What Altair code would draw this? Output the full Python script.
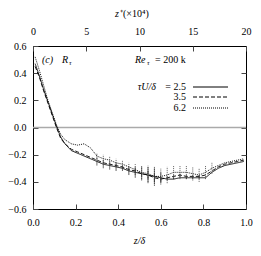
import altair as alt
import pandas as pd

# ---- data ----
z = [0.01, 0.03, 0.05, 0.07, 0.09, 0.11, 0.13, 0.15, 0.18, 0.21, 0.24, 0.27,
     0.30, 0.33, 0.36, 0.39, 0.42, 0.45, 0.48, 0.51, 0.54, 0.57, 0.60, 0.63,
     0.66, 0.69, 0.72, 0.75, 0.78, 0.81, 0.84, 0.87, 0.90, 0.93, 0.96, 0.99]
r_25 = [0.47, 0.38, 0.28, 0.19, 0.10, 0.01, -0.07, -0.12, -0.17, -0.19, -0.21, -0.23,
        -0.25, -0.27, -0.28, -0.29, -0.30, -0.32, -0.33, -0.34, -0.35, -0.36, -0.37, -0.38,
        -0.38, -0.37, -0.37, -0.37, -0.37, -0.37, -0.33, -0.30, -0.28, -0.27, -0.26, -0.25]
r_35 = [0.45, 0.37, 0.27, 0.18, 0.09, 0.00, -0.08, -0.12, -0.16, -0.18, -0.20, -0.22,
        -0.24, -0.26, -0.27, -0.28, -0.29, -0.31, -0.32, -0.34, -0.35, -0.37, -0.38, -0.37,
        -0.36, -0.35, -0.36, -0.36, -0.36, -0.35, -0.32, -0.29, -0.27, -0.26, -0.25, -0.24]
r_62 = [0.52, 0.42, 0.31, 0.20, 0.11, 0.02, -0.05, -0.09, -0.12, -0.13, -0.12, -0.15,
        -0.21, -0.23, -0.24, -0.26, -0.27, -0.29, -0.31, -0.33, -0.34, -0.36, -0.36, -0.35,
        -0.33, -0.33, -0.33, -0.34, -0.35, -0.33, -0.30, -0.28, -0.26, -0.25, -0.24, -0.23]
e_25 = [0, 0, 0, 0, 0, 0, 0, 0, 0, 0, 0, 0,
        0.03, 0.03, 0.03, 0.03, 0.02, 0.03, 0.04, 0.05, 0.06, 0.06, 0.04, 0,
        0, 0, 0, 0, 0, 0, 0, 0, 0, 0, 0, 0]
e_35 = [0, 0, 0, 0, 0, 0, 0, 0, 0, 0, 0, 0,
        0, 0, 0, 0, 0, 0, 0.02, 0.02, 0.03, 0.03, 0.02, 0.02,
        0.02, 0.02, 0.02, 0.02, 0.02, 0, 0, 0, 0, 0, 0, 0]
e_62 = [0, 0, 0, 0, 0, 0, 0, 0, 0, 0, 0, 0,
        0.02, 0.03, 0.03, 0.03, 0.03, 0.03, 0.04, 0.05, 0.06, 0.07, 0.06, 0.06,
        0.05, 0.05, 0.05, 0.05, 0.05, 0.05, 0.04, 0, 0, 0, 0, 0]
series = ["2.5", "3.5", "6.2"]
x_ticks = [0.0, 0.2, 0.4, 0.6, 0.8, 1.0]
y_ticks = [-0.6, -0.4, -0.2, 0.0, 0.2, 0.4, 0.6]
zplus_ticks = [0, 5, 10, 15, 20]

FONT = "Liberation Serif"
FS = 10
W, H = 213, 163

rows = []
for s, ys, es in zip(series, [r_25, r_35, r_62], [e_25, e_35, e_62]):
    for xi, yi, ei in zip(z, ys, es):
        rows.append({"z": xi, "r": yi, "lo": yi - ei, "hi": yi + ei, "err": ei, "s": s})
df = pd.DataFrame(rows)

dash = alt.StrokeDash("s:N", scale=alt.Scale(domain=series, range=[[1, 0], [4, 2], [1, 1]]), legend=None)

xscale = alt.Scale(domain=[0, 1], nice=False, zero=False)
yscale = alt.Scale(domain=[-0.6, 0.6], nice=False, zero=False)

common = dict(offset=-5, tickSize=5, domain=False, grid=False, title=None, tickColor="#444",
              labelFont=FONT, labelFontSize=FS, labelColor="black", labelOverlap=False,
              labelFlush=False)

xaxis = alt.Axis(values=x_ticks, format=".1f", orient="bottom", labelPadding=8, **common)
yaxis = alt.Axis(values=y_ticks, format=".1f", orient="left", labelPadding=7, **common)

zero = alt.Chart(pd.DataFrame({"y": [0.0]})).mark_rule(color="#aaaaaa", strokeWidth=1.5).encode(
    y=alt.Y("y:Q", scale=yscale, axis=yaxis))

lines = alt.Chart(df).mark_line(color="black", strokeWidth=0.9).encode(
    x=alt.X("z:Q", scale=xscale, axis=xaxis),
    y=alt.Y("r:Q", scale=yscale, axis=yaxis),
    strokeDash=dash,
    detail="s:N",
)

errs = alt.Chart(df).transform_filter("datum.err > 0").mark_rule(color="#333", strokeWidth=0.8).encode(
    x=alt.X("z:Q", scale=xscale, axis=xaxis),
    y=alt.Y("lo:Q", scale=yscale, axis=yaxis),
    y2="hi:Q",
    strokeDash=dash,
)

one = pd.DataFrame({"k": [0]})


def label(text, x, y, size=FS, style="normal", align="left"):
    return alt.Chart(one).mark_text(text=text, font=FONT, fontSize=size, fontStyle=style,
                                    align=align, baseline="middle", color="black").encode(
        x=alt.value(x), y=alt.value(y))


def sample(y, d):
    return alt.Chart(one).mark_rule(color="black", strokeWidth=1, strokeDash=d).encode(
        x=alt.value(160), x2=alt.value(195), y=alt.value(y))


texts = [
    label("(c)", 9, 14, style="italic"),
    label("R", 29, 14, style="italic"),
    label("τ", 36, 17, size=7, style="italic"),
    label("Re", 102, 14, style="italic"),
    label("τ", 114, 17, size=7, style="italic"),
    label("= 200 k", 122, 14),
    label("τU/δ", 123, 41, style="italic", align="right"),
    label("= 2.5", 153, 41, align="right"),
    label("3.5", 153, 51, align="right"),
    label("6.2", 153, 62, align="right"),
    sample(41, [1, 0]),
    sample(51, [4, 2]),
    sample(62, [1, 1]),
    label("z", 82, -32, style="italic"),
    label("⁺(×10⁴)", 87, -32),
    label("z/δ", W / 2, H + 32, style="italic", align="center"),
]

main = alt.layer(zero, lines, errs, *texts)

top = alt.Chart(pd.DataFrame({"zp": [0, 20]})).mark_point(opacity=0).encode(
    x=alt.X("zp:Q", scale=alt.Scale(domain=[0, 20], nice=False, zero=False),
            axis=alt.Axis(values=zplus_ticks, format="d", orient="top", labelPadding=10, **common)))

right = alt.Chart(pd.DataFrame({"yr": [-0.6, 0.6]})).mark_point(opacity=0).encode(
    y=alt.Y("yr:Q", scale=alt.Scale(domain=[-0.6, 0.6], nice=False, zero=False),
            axis=alt.Axis(values=[-0.4, -0.2, 0.0, 0.2, 0.4], orient="right", offset=-5, tickSize=5,
                          labels=False, domain=False, grid=False, title=None, tickColor="#444")))

chart = alt.layer(main, top, right).resolve_scale(x="independent", y="independent").properties(
    width=W, height=H,
    autosize=alt.AutoSizeParams(type="none"),
    padding={"left": 25, "top": 38, "right": 7, "bottom": 39},
).configure_view(stroke="black", strokeWidth=1).configure_axis(labelOverlap=False)

chart.save("out.html", embed_options={"renderer": "svg", "actions": False})
